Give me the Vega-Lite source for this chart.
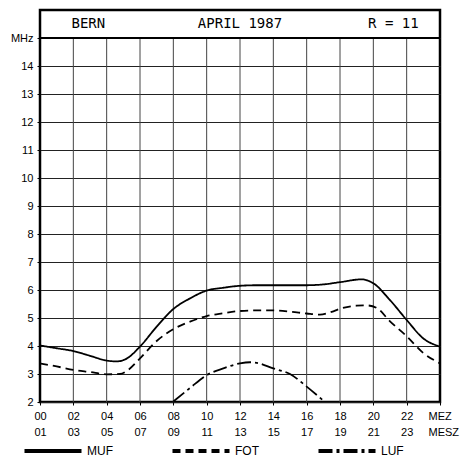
{
  "$schema": "https://vega.github.io/schema/vega-lite/v6.json",
  "width": 400,
  "height": 392,
  "autosize": {"type": "none"},
  "padding": {"left": 40, "top": 10, "right": 20, "bottom": 55},
  "background": "white",
  "config": {
    "view": {"stroke": "black", "strokeWidth": 2.5},
    "font": "Liberation Sans"
  },
  "datasets": {
    "curves": [
      {"series": "MUF", "hour": 0, "mhz": 4.02},
      {"series": "MUF", "hour": 1, "mhz": 3.92},
      {"series": "MUF", "hour": 2, "mhz": 3.82},
      {"series": "MUF", "hour": 3, "mhz": 3.65},
      {"series": "MUF", "hour": 4, "mhz": 3.48},
      {"series": "MUF", "hour": 4.6, "mhz": 3.45},
      {"series": "MUF", "hour": 5.2, "mhz": 3.55},
      {"series": "MUF", "hour": 6, "mhz": 3.98},
      {"series": "MUF", "hour": 7, "mhz": 4.69},
      {"series": "MUF", "hour": 8, "mhz": 5.32},
      {"series": "MUF", "hour": 9, "mhz": 5.7},
      {"series": "MUF", "hour": 10, "mhz": 5.98},
      {"series": "MUF", "hour": 11, "mhz": 6.08},
      {"series": "MUF", "hour": 12, "mhz": 6.15},
      {"series": "MUF", "hour": 13, "mhz": 6.17},
      {"series": "MUF", "hour": 14, "mhz": 6.17},
      {"series": "MUF", "hour": 15, "mhz": 6.17},
      {"series": "MUF", "hour": 16, "mhz": 6.17},
      {"series": "MUF", "hour": 17, "mhz": 6.2},
      {"series": "MUF", "hour": 18, "mhz": 6.28},
      {"series": "MUF", "hour": 19.3, "mhz": 6.38},
      {"series": "MUF", "hour": 20, "mhz": 6.24},
      {"series": "MUF", "hour": 21, "mhz": 5.64},
      {"series": "MUF", "hour": 22, "mhz": 4.93},
      {"series": "MUF", "hour": 23, "mhz": 4.27},
      {"series": "MUF", "hour": 24, "mhz": 3.98},
      {"series": "FOT", "hour": 0, "mhz": 3.38},
      {"series": "FOT", "hour": 1, "mhz": 3.27},
      {"series": "FOT", "hour": 2, "mhz": 3.15},
      {"series": "FOT", "hour": 3, "mhz": 3.07},
      {"series": "FOT", "hour": 4, "mhz": 2.99},
      {"series": "FOT", "hour": 4.8, "mhz": 3.0},
      {"series": "FOT", "hour": 5.3, "mhz": 3.15},
      {"series": "FOT", "hour": 6, "mhz": 3.56},
      {"series": "FOT", "hour": 7, "mhz": 4.18},
      {"series": "FOT", "hour": 8, "mhz": 4.6},
      {"series": "FOT", "hour": 9, "mhz": 4.87},
      {"series": "FOT", "hour": 10, "mhz": 5.07},
      {"series": "FOT", "hour": 11, "mhz": 5.17},
      {"series": "FOT", "hour": 12, "mhz": 5.25},
      {"series": "FOT", "hour": 13, "mhz": 5.27},
      {"series": "FOT", "hour": 14, "mhz": 5.27},
      {"series": "FOT", "hour": 15, "mhz": 5.23},
      {"series": "FOT", "hour": 16, "mhz": 5.16},
      {"series": "FOT", "hour": 16.8, "mhz": 5.12},
      {"series": "FOT", "hour": 17.5, "mhz": 5.22},
      {"series": "FOT", "hour": 18, "mhz": 5.33},
      {"series": "FOT", "hour": 19, "mhz": 5.44},
      {"series": "FOT", "hour": 19.6, "mhz": 5.45},
      {"series": "FOT", "hour": 20.2, "mhz": 5.36},
      {"series": "FOT", "hour": 21, "mhz": 4.88},
      {"series": "FOT", "hour": 22, "mhz": 4.35},
      {"series": "FOT", "hour": 23, "mhz": 3.75},
      {"series": "FOT", "hour": 24, "mhz": 3.38},
      {"series": "LUF", "hour": 8, "mhz": 2.02},
      {"series": "LUF", "hour": 9, "mhz": 2.5},
      {"series": "LUF", "hour": 10, "mhz": 2.96},
      {"series": "LUF", "hour": 11, "mhz": 3.2},
      {"series": "LUF", "hour": 12, "mhz": 3.38},
      {"series": "LUF", "hour": 12.6, "mhz": 3.42},
      {"series": "LUF", "hour": 13, "mhz": 3.4},
      {"series": "LUF", "hour": 14, "mhz": 3.2},
      {"series": "LUF", "hour": 15, "mhz": 3.0},
      {"series": "LUF", "hour": 16, "mhz": 2.55},
      {"series": "LUF", "hour": 17, "mhz": 2.05}
    ],
    "vgrid": [
      {"hour": 2, "mhz": 2, "mhz2": 15},
      {"hour": 4, "mhz": 2, "mhz2": 15},
      {"hour": 6, "mhz": 2, "mhz2": 15},
      {"hour": 8, "mhz": 2, "mhz2": 15},
      {"hour": 10, "mhz": 2, "mhz2": 15},
      {"hour": 12, "mhz": 2, "mhz2": 15},
      {"hour": 14, "mhz": 2, "mhz2": 15},
      {"hour": 16, "mhz": 2, "mhz2": 15},
      {"hour": 18, "mhz": 2, "mhz2": 15},
      {"hour": 20, "mhz": 2, "mhz2": 15},
      {"hour": 22, "mhz": 2, "mhz2": 15}
    ],
    "headline": [
      {"hour": 0, "hour2": 24, "mhz": 15}
    ],
    "header": [
      {"hour": 2.9, "mhz": 15.5, "label": "BERN"},
      {"hour": 12.0, "mhz": 15.5, "label": "APRIL 1987"},
      {"hour": 21.2, "mhz": 15.5, "label": "R = 11"}
    ]
  },
  "encoding": {
    "x": {
      "field": "hour",
      "type": "quantitative",
      "scale": {"domain": [0, 24], "nice": false, "zero": false},
      "axis": {
        "title": null,
        "values": [0, 2, 4, 6, 8, 10, 12, 14, 16, 18, 20, 22, 24],
        "grid": false,
        "domain": false,
        "ticks": true,
        "tickSize": 3,
        "tickColor": "black",
        "labelFont": "Liberation Sans",
        "labelFontSize": 11,
        "labelColor": "black",
        "labelPadding": 5,
        "labelBaseline": "top",
        "labelLineHeight": 16.5,
        "labelFlush": false,
        "labelOverlap": false,
        "labelAlign": {"condition": {"test": "datum.value == 24", "value": "left"}, "value": "center"},
        "labelOffset": {"condition": {"test": "datum.value == 24", "value": -12}, "value": 0},
        "labelExpr": "datum.value == 24 ? ['MEZ', 'MESZ'] : [(datum.value < 10 ? '0' : '') + datum.value, (datum.value + 1 < 10 ? '0' : '') + (datum.value + 1)]"
      }
    },
    "y": {
      "field": "mhz",
      "type": "quantitative",
      "scale": {"domain": [2, 16], "nice": false, "zero": false},
      "axis": {
        "title": null,
        "values": [2, 3, 4, 5, 6, 7, 8, 9, 10, 11, 12, 13, 14, 15],
        "grid": true,
        "gridColor": "#222222",
        "gridWidth": 1.2,
        "gridOpacity": 1,
        "domain": false,
        "ticks": true,
        "tickSize": 3,
        "tickColor": "black",
        "labelFont": "Liberation Sans",
        "labelFontSize": 11,
        "labelColor": "black",
        "labelPadding": 4,
        "labelExpr": "datum.value == 15 ? 'MHz' : datum.label"
      }
    }
  },
  "layer": [
    {
      "data": {"name": "vgrid"},
      "mark": {"type": "rule", "color": "#444444", "strokeWidth": 1},
      "encoding": {"y2": {"field": "mhz2"}}
    },
    {
      "data": {"name": "headline"},
      "mark": {"type": "rule", "color": "black", "strokeWidth": 2.2},
      "encoding": {"x2": {"field": "hour2"}}
    },
    {
      "data": {"name": "curves"},
      "mark": {"type": "line", "color": "black", "strokeWidth": 1.8, "interpolate": "monotone"},
      "encoding": {
        "strokeDash": {
          "field": "series",
          "type": "nominal",
          "scale": {"domain": ["MUF", "FOT", "LUF"], "range": [[1, 0], [8, 5], [14, 4, 3, 4]]},
          "legend": {
            "title": null,
            "orient": "none",
            "legendX": -18,
            "legendY": 410,
            "direction": "horizontal",
            "symbolType": "stroke",
            "symbolSize": 3250,
            "symbolStrokeWidth": 4,
            "symbolStrokeColor": "black",
            "labelFont": "Liberation Sans",
            "labelFontSize": 12,
            "labelColor": "black",
            "labelBaseline": "middle",
            "labelOffset": 3,
            "columnPadding": 51
          }
        }
      }
    },
    {
      "data": {"name": "header"},
      "mark": {"type": "text", "font": "DejaVu Sans Mono", "fontSize": 14, "color": "black", "align": "center", "baseline": "middle"},
      "encoding": {"text": {"field": "label"}}
    }
  ]
}
